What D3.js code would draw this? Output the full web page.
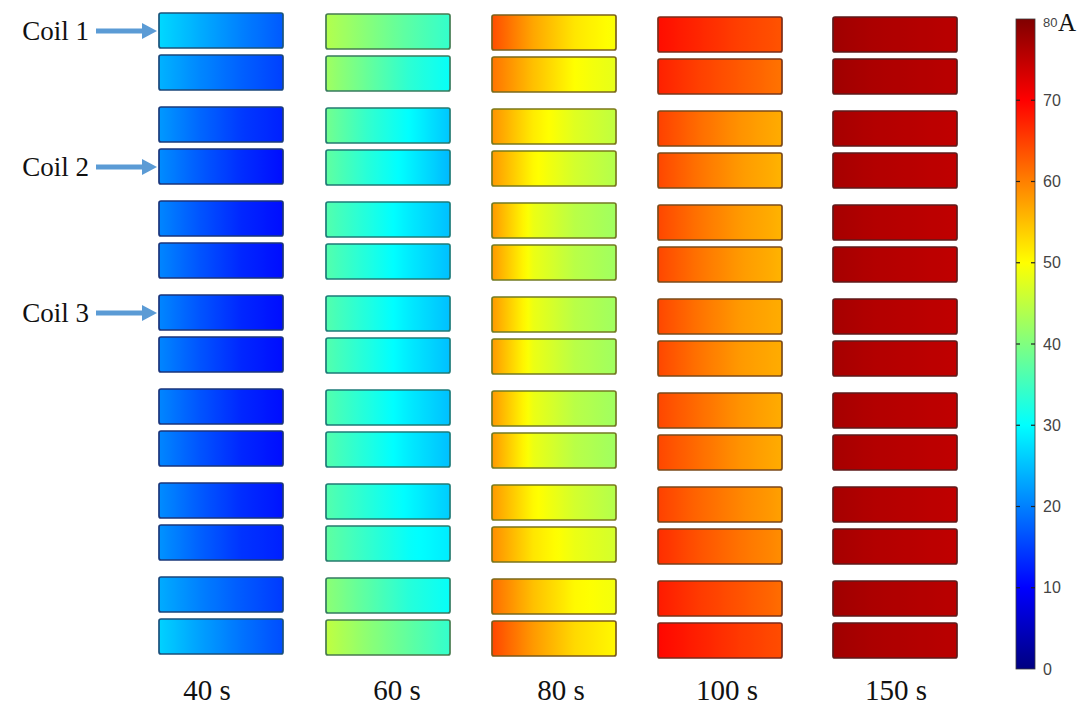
<!DOCTYPE html>
<html>
<head>
<meta charset="utf-8">
<script src="https://cdn.jsdelivr.net/npm/d3@7"></script>
<style>
  html, body { margin: 0; padding: 0; background: #ffffff; }
  svg { display: block; }
</style>
</head>
<body>
<svg id="chart" width="1089" height="705"></svg>
<script>
// Snapshot times (one column of coils per time)
const times = ["40 s", "60 s", "80 s", "100 s", "150 s"];

// Coil labels and the row each arrow points to
const coilLabels = ["Coil 1", "Coil 2", "Coil 3"];
const coilRows = [0, 3, 6];

// Colour bar ticks (A)
const barTicks = [0, 10, 20, 30, 40, 50, 60, 70, 80];
const barUnit = "A";

// Current profile across each coil, sampled at 0, 1/3, 2/3 and 1 of its width.
// 14 coils (7 pairs) per time.
const current40 = [
  [27.0, 23.5, 20.0, 17.0],
  [24.0, 20.5, 17.5, 15.0],
  [22.0, 18.0, 14.5, 12.5],
  [21.0, 17.0, 13.5, 11.0],
  [20.5, 16.5, 13.0, 11.0],
  [20.5, 16.5, 13.0, 11.0],
  [20.5, 16.5, 13.0, 11.0],
  [20.5, 16.5, 13.0, 11.0],
  [20.5, 16.5, 13.0, 11.0],
  [20.5, 16.5, 13.0, 11.0],
  [21.0, 17.0, 13.5, 11.5],
  [21.5, 17.5, 14.0, 12.5],
  [23.5, 20.0, 17.0, 14.5],
  [26.5, 22.5, 19.0, 16.0]
];
const current60 = [
  [44.0, 40.5, 37.0, 34.0],
  [42.5, 38.0, 33.5, 30.5],
  [39.0, 34.0, 30.0, 25.5],
  [37.5, 33.0, 29.0, 24.5],
  [36.5, 32.5, 28.5, 25.0],
  [36.5, 32.5, 28.5, 25.0],
  [36.5, 32.5, 28.5, 25.0],
  [36.5, 32.5, 28.5, 25.0],
  [36.5, 32.5, 28.5, 25.0],
  [36.5, 32.5, 28.5, 25.0],
  [36.5, 33.0, 29.5, 26.0],
  [37.5, 34.0, 30.5, 28.5],
  [41.0, 37.0, 33.0, 30.5],
  [45.0, 41.0, 37.5, 34.0]
];
const current80 = [
  [64.0, 57.0, 52.0, 49.5],
  [61.0, 55.0, 50.0, 48.0],
  [58.5, 51.5, 47.5, 45.0],
  [58.0, 50.5, 46.5, 44.0],
  [58.0, 48.5, 44.5, 42.5],
  [58.0, 48.5, 44.5, 42.5],
  [58.0, 48.5, 44.5, 42.5],
  [58.0, 48.5, 44.5, 42.5],
  [58.0, 48.5, 44.5, 42.5],
  [58.0, 48.5, 44.5, 42.5],
  [58.0, 50.5, 46.5, 44.0],
  [59.0, 52.0, 48.5, 46.5],
  [61.5, 55.0, 50.5, 49.0],
  [64.5, 58.0, 53.0, 50.5]
];
const current100 = [
  [69.0, 67.0, 65.0, 63.5],
  [67.5, 65.0, 63.0, 61.0],
  [65.0, 61.5, 58.5, 56.5],
  [64.5, 61.0, 58.0, 56.0],
  [64.5, 61.0, 58.0, 56.0],
  [64.5, 61.0, 58.0, 56.0],
  [64.5, 61.0, 58.0, 56.5],
  [64.5, 61.0, 58.0, 56.5],
  [64.5, 61.5, 58.5, 56.5],
  [64.5, 61.5, 58.5, 56.5],
  [65.0, 62.0, 59.5, 57.5],
  [66.5, 63.5, 61.0, 59.0],
  [68.0, 65.5, 63.5, 61.5],
  [69.5, 67.5, 65.5, 64.0]
];
const current150 = [
  [77.5, 76.5, 76.0, 75.5],
  [77.5, 76.5, 76.0, 75.5],
  [77.0, 76.0, 75.5, 75.0],
  [77.0, 76.0, 75.5, 75.0],
  [77.0, 76.0, 75.5, 75.0],
  [77.0, 76.0, 75.5, 75.0],
  [77.0, 76.0, 75.5, 75.0],
  [77.0, 76.0, 75.5, 75.0],
  [77.0, 76.0, 75.5, 75.0],
  [77.0, 76.0, 75.5, 75.0],
  [77.0, 76.0, 75.5, 75.0],
  [77.0, 76.0, 75.5, 75.0],
  [77.5, 76.5, 76.0, 75.5],
  [77.5, 76.5, 76.0, 75.5]
];
const currents = [current40, current60, current80, current100, current150];

// ---- layout ----
const colLeft = [159, 326, 492, 658, 833];   // left edge of each column
const colTop = [13, 14, 15, 17, 17];        // top of first coil in each column
const labelShift = [-14, 9, 7, 7, 1];       // small horizontal nudge of time labels
const coilW = 124, coilH = 35;
const pairPitch = 94, innerPitch = 42;

const svg = d3.select("#chart");
const defs = svg.append("defs");

// Jet colour map over 0..80 A
const jet = d3.scaleLinear()
  .domain(barTicks)
  .range(["#000080", "#0000ff", "#0080ff", "#00ffff", "#80ff80",
          "#ffff00", "#ff8000", "#ff0000", "#800000"])
  .interpolate(d3.interpolateRgb)
  .clamp(true);

// Position of a coil's top edge, by row index
const rowScale = d3.scaleLinear().domain([0, 1]).range([0, pairPitch]);
function rowY(col, r) {
  return colTop[col] + rowScale(Math.floor(r / 2)) + (r % 2) * innerPitch;
}

// Coils
const profileX = d3.scaleLinear().domain([0, 1 / 3, 2 / 3, 1]);
currents.forEach((rows, c) => {
  const g = svg.append("g").attr("class", "col-" + c);
  rows.forEach((vals, r) => {
    const id = `grad-${c}-${r}`;
    const prof = profileX.copy().range(vals);
    const grad = defs.append("linearGradient")
      .attr("id", id).attr("x1", "0%").attr("x2", "100%")
      .attr("y1", "0%").attr("y2", "0%");
    d3.range(0, 1.0001, 1 / 24).forEach(t => {
      grad.append("stop")
        .attr("offset", (t * 100).toFixed(2) + "%")
        .attr("stop-color", jet(prof(t)));
    });
    const mean = d3.mean(vals);
    g.append("rect")
      .attr("x", colLeft[c])
      .attr("y", rowY(c, r))
      .attr("width", coilW)
      .attr("height", coilH)
      .attr("rx", 2).attr("ry", 2)
      .attr("fill", `url(#${id})`)
      .attr("stroke", d3.interpolateRgb(jet(mean), "#2a2a2a")(0.62))
      .attr("stroke-width", 1.7);
  });
  // time label
  svg.append("text")
    .attr("x", colLeft[c] + coilW / 2 + labelShift[c])
    .attr("y", 700)
    .attr("text-anchor", "middle")
    .attr("font-family", "'Liberation Serif', 'Times New Roman', serif")
    .attr("font-size", 29)
    .attr("fill", "#111")
    .text(times[c]);
});

// Coil labels with arrows
const arrowColor = "#5b9bd5";
coilLabels.forEach((lab, i) => {
  const cy = rowY(0, coilRows[i]) + coilH / 2 + 0.5;
  svg.append("text")
    .attr("x", 89)
    .attr("y", cy + 9)
    .attr("text-anchor", "end")
    .attr("font-family", "'Liberation Serif', 'Times New Roman', serif")
    .attr("font-size", 27)
    .attr("fill", "#111")
    .text(lab);
  const x0 = 96, x1 = colLeft[0] - 2, head = 15;
  svg.append("line")
    .attr("x1", x0).attr("x2", x1 - head + 2)
    .attr("y1", cy).attr("y2", cy)
    .attr("stroke", arrowColor).attr("stroke-width", 5);
  svg.append("path")
    .attr("d", `M${x1 - head},${cy - 8}L${x1},${cy}L${x1 - head},${cy + 8}Z`)
    .attr("fill", arrowColor);
});

// Colour bar
const barX = 1016, barW = 19;
const barScale = d3.scaleLinear().domain([0, 80]).range([669, 19]);
const barGrad = defs.append("linearGradient")
  .attr("id", "bar-grad").attr("x1", "0%").attr("x2", "0%")
  .attr("y1", "100%").attr("y2", "0%");
barTicks.forEach(v => {
  barGrad.append("stop")
    .attr("offset", (v / 80 * 100) + "%")
    .attr("stop-color", jet(v));
});
svg.append("rect")
  .attr("x", barX).attr("y", barScale(80))
  .attr("width", barW).attr("height", barScale(0) - barScale(80))
  .attr("fill", "url(#bar-grad)")
  .attr("stroke", "#3a3a3a").attr("stroke-width", 0.8);

// tick marks just inside both edges of the bar
const tickG = svg.append("g");
barTicks.filter(v => v > 0 && v < 80).forEach(v => {
  const y = barScale(v);
  tickG.append("line").attr("x1", barX).attr("x2", barX + 4)
    .attr("y1", y).attr("y2", y).attr("stroke", "#222").attr("stroke-width", 1.2);
  tickG.append("line").attr("x1", barX + barW - 4).attr("x2", barX + barW)
    .attr("y1", y).attr("y2", y).attr("stroke", "#222").attr("stroke-width", 1.2);
});

const axis = d3.axisRight(barScale).tickValues(barTicks).tickSize(0).tickPadding(8);
const axG = svg.append("g").attr("transform", `translate(${barX + barW},0)`).call(axis);
axG.attr("font-size", null).attr("font-family", null);
axG.select(".domain").remove();
axG.selectAll("text")
  .style("font-family", "'Liberation Sans', Arial, sans-serif")
  .style("font-size", "16px")
  .attr("fill", "#444");
axG.selectAll(".tick").filter(d => d === 80).select("text")
  .style("font-size", "13px").attr("dy", "0.55em");

svg.append("text")
  .attr("x", 1058).attr("y", 31)
  .attr("font-family", "'Liberation Serif', 'Times New Roman', serif")
  .attr("font-size", 25)
  .attr("fill", "#111")
  .text(barUnit);
</script>
</body>
</html>
